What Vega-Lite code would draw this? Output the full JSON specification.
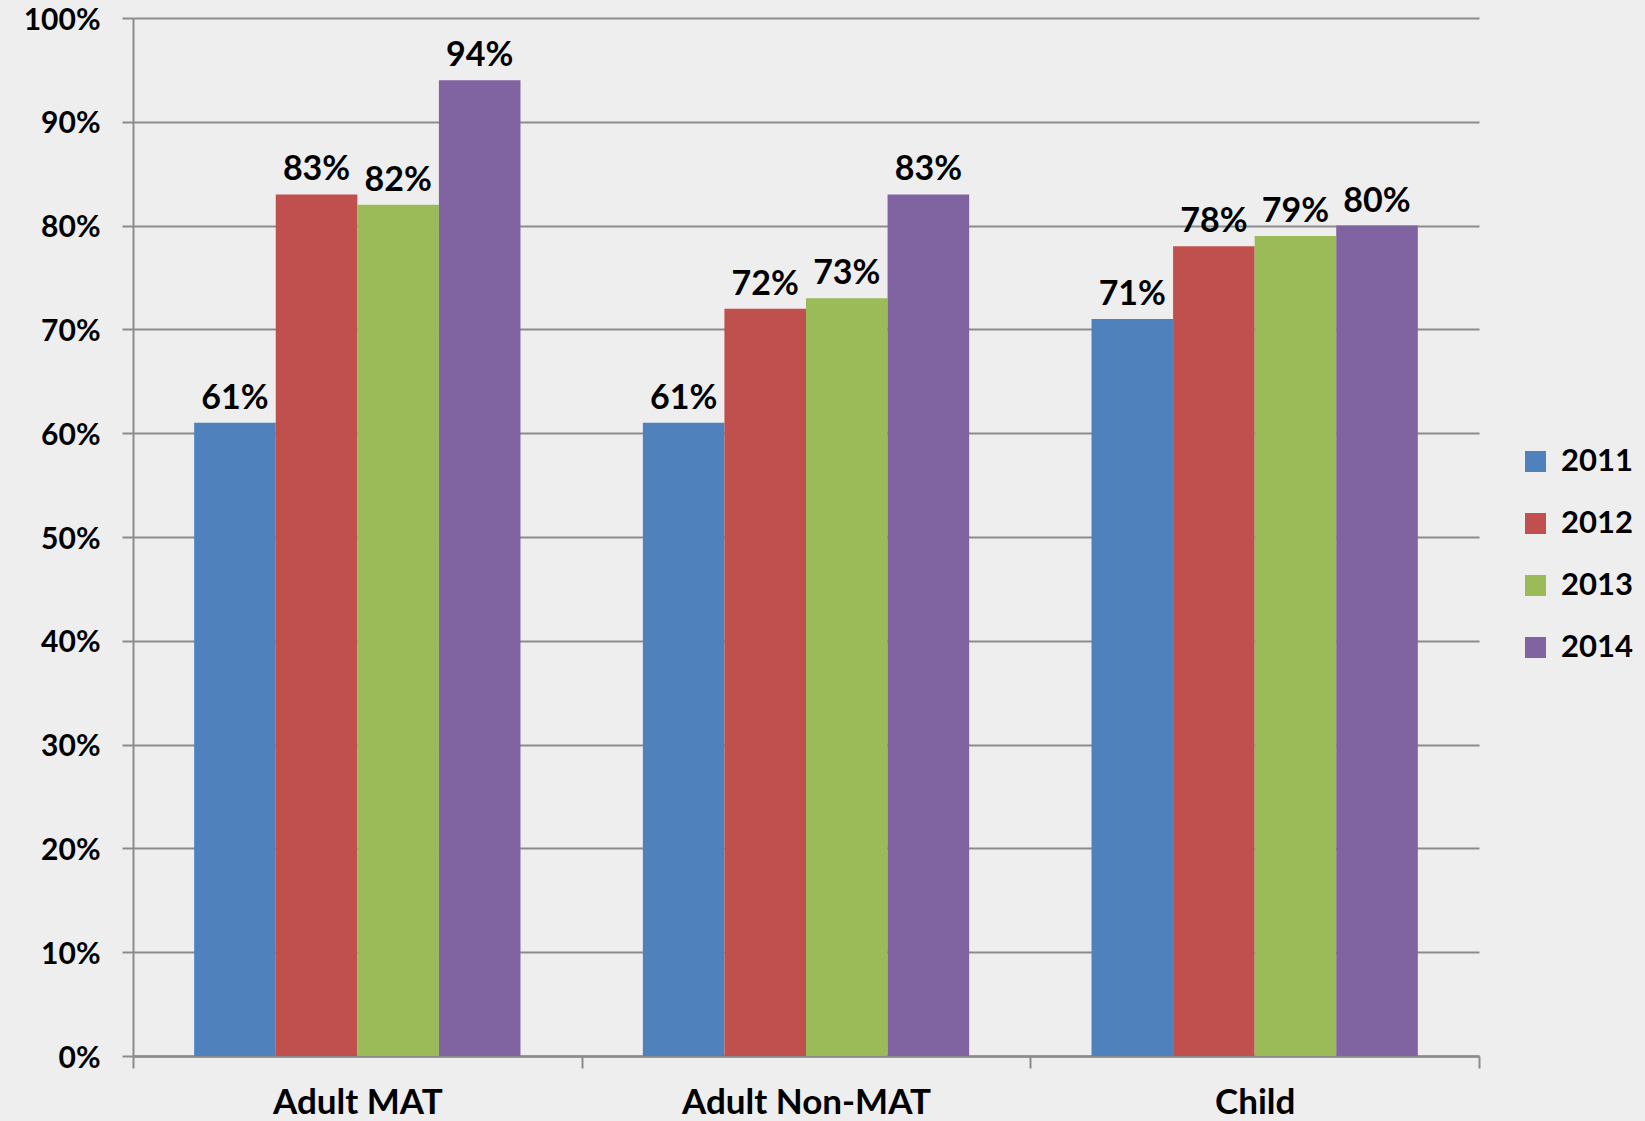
{
  "$schema": "https://vega.github.io/schema/vega-lite/v6.json",
  "autosize": {"type": "none"},
  "padding": {"left": 133, "top": 18, "right": 166, "bottom": 65},
  "width": 1346,
  "height": 1038,
  "background": "#eeeeee",
  "config": {
    "view": {"stroke": null},
    "font": "Lato"
  },
  "data": {
    "values": [
      {"group": "Adult MAT", "year": "2011", "value": 0.61},
      {"group": "Adult MAT", "year": "2012", "value": 0.83},
      {"group": "Adult MAT", "year": "2013", "value": 0.82},
      {"group": "Adult MAT", "year": "2014", "value": 0.94},
      {"group": "Adult Non-MAT", "year": "2011", "value": 0.61},
      {"group": "Adult Non-MAT", "year": "2012", "value": 0.72},
      {"group": "Adult Non-MAT", "year": "2013", "value": 0.73},
      {"group": "Adult Non-MAT", "year": "2014", "value": 0.83},
      {"group": "Child", "year": "2011", "value": 0.71},
      {"group": "Child", "year": "2012", "value": 0.78},
      {"group": "Child", "year": "2013", "value": 0.79},
      {"group": "Child", "year": "2014", "value": 0.80}
    ]
  },
  "encoding": {
    "x": {
      "field": "group", "type": "nominal", "sort": null,
      "scale": {"paddingInner": 0, "paddingOuter": 0},
      "axis": {
        "title": null, "labelAngle": 0, "labelFont": "Lato", "labelFontWeight": "bold",
        "labelFontSize": 35, "labelColor": "#000000", "labelPadding": 17, "labelLimit": 0,
        "tickBand": "extent", "tickSize": 12, "tickWidth": 2, "tickColor": "#8c8c8c",
        "domainColor": "#8c8c8c", "domainWidth": 2.5, "grid": false
      }
    },
    "xOffset": {
      "field": "year", "type": "nominal",
      "scale": {"paddingInner": 0, "paddingOuter": 0.75}
    },
    "y": {
      "field": "value", "type": "quantitative",
      "scale": {"domain": [0, 1], "nice": false},
      "axis": {
        "title": null, "format": ".0%", "values": [0,0.1,0.2,0.3,0.4,0.5,0.6,0.7,0.8,0.9,1],
        "labelOverlap": false, "labelBound": false, "labelFlush": false,
        "labelFont": "Lato", "labelFontWeight": "bold", "labelFontSize": 30, "labelColor": "#000000",
        "labelBaseline": "alphabetic", "labelOffset": 11,
        "labelPadding": 22, "tickSize": 11, "tickWidth": 2, "tickColor": "#8c8c8c",
        "domainColor": "#8c8c8c", "domainWidth": 2, "gridColor": "#8c8c8c", "gridWidth": 2
      }
    }
  },
  "layer": [
    {
      "mark": {"type": "bar"},
      "encoding": {
        "color": {
          "field": "year", "type": "nominal",
          "scale": {"range": ["#4F81BD", "#C0504D", "#9BBB59", "#8064A2"]},
          "legend": {
            "title": null, "orient": "none", "legendX": 1387, "legendY": 428,
            "symbolType": "square", "symbolSize": 440, "symbolStrokeWidth": 0,
            "labelFont": "Lato", "labelFontWeight": "bold", "labelFontSize": 31, "labelColor": "#000000",
            "rowPadding": 30, "labelOffset": 10
          }
        }
      }
    },
    {
      "mark": {"type": "text", "baseline": "alphabetic", "dy": -14, "font": "Lato", "fontWeight": "bold", "fontSize": 34, "color": "#000000"},
      "encoding": {
        "text": {"field": "value", "type": "quantitative", "format": ".0%"}
      }
    }
  ]
}
